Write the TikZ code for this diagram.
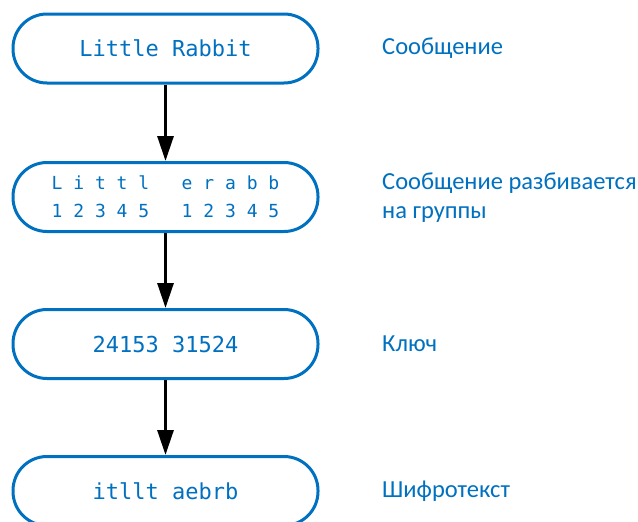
\documentclass[tikz,border=0pt]{standalone}
\usepackage{fontspec}
\setmainfont{Carlito}
\newfontfamily\codefont{DejaVu Sans Mono}
\usetikzlibrary{arrows.meta}
\definecolor{flowblue}{HTML}{0070C0}
\tikzset{
  pill/.style={draw=flowblue, line width=3pt, rounded corners=34pt,
    minimum width=305pt, minimum height=69pt, inner sep=0pt,
    text=flowblue, font=\codefont\fontsize{22}{26}\selectfont, align=center},
  smallpill/.style={pill, font=\codefont\fontsize{18}{28}\selectfont},
  note/.style={anchor=west, text=flowblue, font=\fontsize{24.5}{29}\selectfont, align=left, inner sep=0pt},
  flow/.style={line width=3pt, -{Triangle[length=25pt,width=16pt]}}
}
\begin{document}
\begin{tikzpicture}[x=1pt,y=-1pt]
\useasboundingbox (0,0) rectangle (638,522);
\node[pill] (n1) at (165.5,48.5) {Little Rabbit};
\node[smallpill] (n2) at (165.5,197) {L~i~t~t~l~~~e~r~a~b~b\\1~2~3~4~5~~~1~2~3~4~5};
\node[pill] (n3) at (165.5,344) {24153 31524};
\node[pill] (n4) at (165.5,491) {itllt aebrb};
\draw[flow] (n1.south) -- (n2.north);
\draw[flow] (n2.south) -- (n3.north);
\draw[flow] (n3.south) -- (n4.north);
\node[note] (t1) at (382,48.5) {Сообщение};
\node[note] (t2) at (382,198) {Сообщение разбивается\\на группы};
\node[note] (t3) at (382,344) {Ключ};
\node[note] (t4) at (382,491) {Шифротекст};
\end{tikzpicture}
\end{document}
